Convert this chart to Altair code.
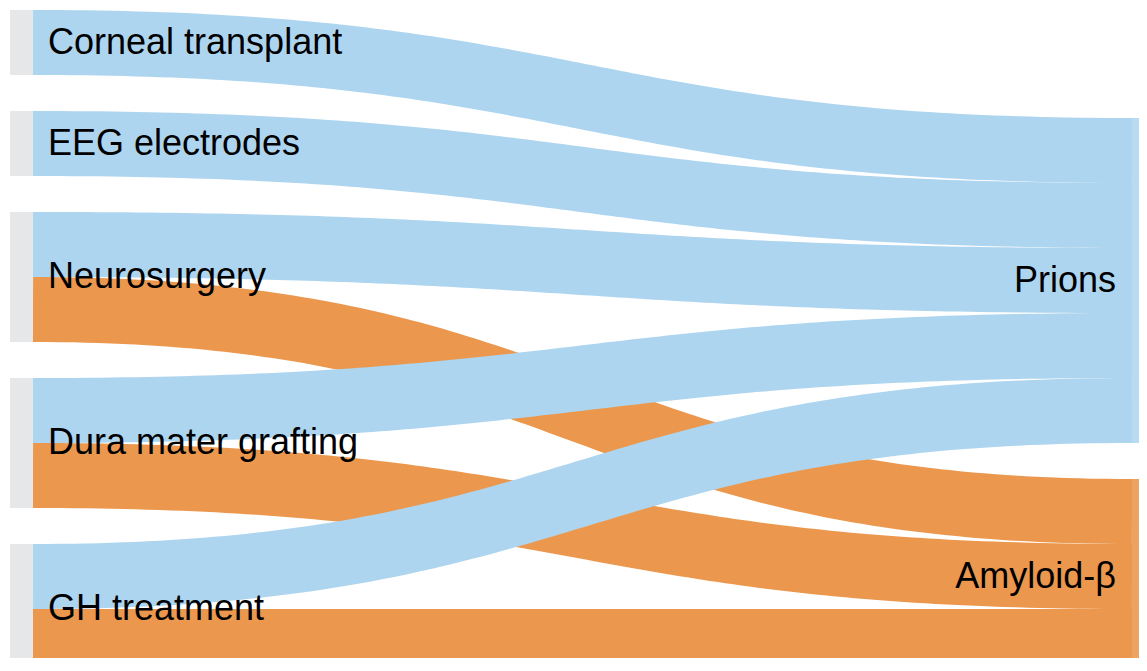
import altair as alt
import pandas as pd
import numpy as np

# ---- data ----
sources = ["Corneal transplant", "EEG electrodes", "Neurosurgery", "Dura mater grafting", "GH treatment"]
targets = ["Prions", "Amyloid-β"]
link_source = ["Corneal transplant", "EEG electrodes", "Neurosurgery", "Neurosurgery",
               "Dura mater grafting", "Dura mater grafting", "GH treatment", "GH treatment"]
link_target = ["Prions", "Prions", "Prions", "Amyloid-β",
               "Prions", "Amyloid-β", "Prions", "Amyloid-β"]
link_value = [1, 1, 1, 1, 1, 1, 1, 1]

# ---- layout / style ----
W, H = 1131, 650
X0, X1, Y0, Y1 = 2, 1147, 2, 666
NODE_W = 23
GAP = 36
LABEL_PAD = 15
FONT = "Liberation Sans"
target_color = {"Prions": "#aed5ef", "Amyloid-β": "#eb984e"}
target_node_color = {"Prions": "#b8dbf2", "Amyloid-β": "#eda360"}
source_node_color = "#e6e7e9"

src_val = {s: sum(v for a, v in zip(link_source, link_value) if a == s) for s in sources}
tgt_val = {t: sum(v for b, v in zip(link_target, link_value) if b == t) for t in targets}
ky = min((Y1 - Y0 - (len(sources) - 1) * GAP) / sum(src_val.values()),
         (Y1 - Y0 - (len(targets) - 1) * GAP) / sum(tgt_val.values()))

nodes = []
y = Y0
src_pos = {}
for s in sources:
    h = src_val[s] * ky
    src_pos[s] = (y, y + h)
    nodes.append(dict(name=s, x=X0, x2=X0 + NODE_W, y=y, y2=y + h, color=source_node_color))
    y += h + GAP
tot = sum(tgt_val.values()) * ky + (len(targets) - 1) * GAP
y = Y1 - tot
tgt_pos = {}
for t in targets:
    h = tgt_val[t] * ky
    tgt_pos[t] = (y, y + h)
    nodes.append(dict(name=t, x=X1 - NODE_W, x2=X1, y=y, y2=y + h, color=target_node_color[t]))
    y += h + GAP
nodes_df = pd.DataFrame(nodes)

# link stacking
src_off = {s: src_pos[s][0] for s in sources}
tgt_off = {t: tgt_pos[t][0] for t in targets}
link_y0 = [None] * len(link_source)
link_y1 = [None] * len(link_source)
for s in sources:
    for t in targets:
        for i, (a, b) in enumerate(zip(link_source, link_target)):
            if a == s and b == t:
                w = link_value[i] * ky
                link_y0[i] = src_off[s] + w / 2
                src_off[s] += w
for t in targets:
    for s in sources:
        for i, (a, b) in enumerate(zip(link_source, link_target)):
            if a == s and b == t:
                w = link_value[i] * ky
                link_y1[i] = tgt_off[t] + w / 2
                tgt_off[t] += w

xa, xb = X0 + NODE_W, X1 - NODE_W
xm = (xa + xb) / 2
ts = np.linspace(0, 1, 120)
rows = []
for i in range(len(link_source)):
    ya, yb = link_y0[i], link_y1[i]
    for k, tt in enumerate(ts):
        u = 1 - tt
        px = u**3 * xa + 3 * u**2 * tt * xm + 3 * u * tt**2 * xm + tt**3 * xb
        py = u**3 * ya + 3 * u**2 * tt * ya + 3 * u * tt**2 * yb + tt**3 * yb
        rows.append(dict(link=i, k=k, x=px, y=py, value=link_value[i],
                         target=link_target[i]))
links_df = pd.DataFrame(rows)

xs = alt.Scale(domain=[0, W], nice=False, zero=False)
ys = alt.Scale(domain=[0, H], nice=False, zero=False, reverse=True)


def link_layer(tname):
    d = links_df[links_df.target == tname]
    return alt.Chart(d).mark_line(strokeCap="butt", color=target_color[tname]).encode(
        x=alt.X("x:Q", scale=xs, axis=None),
        y=alt.Y("y:Q", scale=ys, axis=None),
        detail="link:N",
        order="k:Q",
        size=alt.Size("value:Q", scale=alt.Scale(domain=[0, 1], range=[0, ky]), legend=None),
    )


node_layer = alt.Chart(nodes_df).mark_rect().encode(
    x=alt.X("x:Q", scale=xs, axis=None),
    x2="x2:Q",
    y=alt.Y("y:Q", scale=ys, axis=None),
    y2="y2:Q",
    color=alt.Color("color:N", scale=None),
)

lab = nodes_df.copy()
lab["cy"] = (lab.y + lab.y2) / 2
left_lab = lab[lab.name.isin(sources)].copy()
left_lab["lx"] = left_lab.x2 + LABEL_PAD
right_lab = lab[lab.name.isin(targets)].copy()
right_lab["lx"] = right_lab.x - LABEL_PAD - 1

left_text = alt.Chart(left_lab).mark_text(align="left", baseline="middle", fontSize=36,
                                          font=FONT, color="black").encode(
    x=alt.X("lx:Q", scale=xs, axis=None), y=alt.Y("cy:Q", scale=ys, axis=None), text="name:N")
right_text = alt.Chart(right_lab).mark_text(align="right", baseline="middle", fontSize=36,
                                            font=FONT, color="black").encode(
    x=alt.X("lx:Q", scale=xs, axis=None), y=alt.Y("cy:Q", scale=ys, axis=None), text="name:N")

chart = alt.layer(
    link_layer("Amyloid-β"), link_layer("Prions"), node_layer, left_text, right_text
).properties(width=W, height=H, padding=0, autosize=alt.AutoSizeParams(type="none")
).configure_view(strokeWidth=0)

chart.save("out.html", embed_options={"renderer": "svg", "actions": False})
